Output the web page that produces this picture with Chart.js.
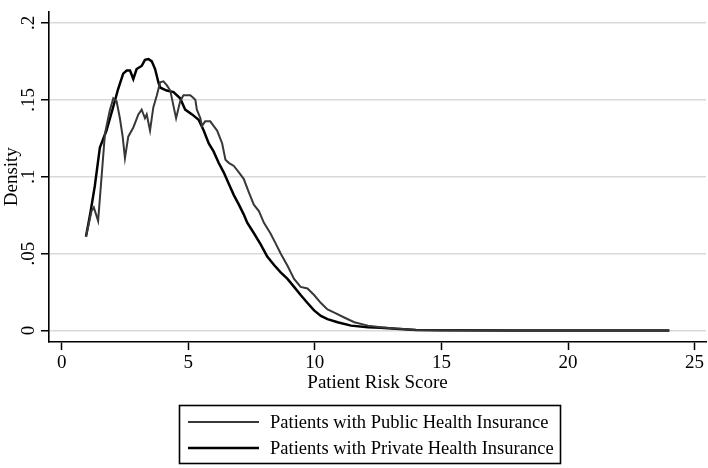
<!DOCTYPE html>
<html><head><meta charset="utf-8">
<script src="https://cdn.jsdelivr.net/npm/chart.js@4"></script>
<style>html,body{margin:0;padding:0;background:#fff}</style>
</head><body>
<canvas id="c" width="708" height="468" style="display:block;width:708px;height:468px"></canvas>
<script>
// ---- data ----
const seriesNames = ['Patients with Public Health Insurance', 'Patients with Private Health Insurance'];

const publicX = [0.96, 1.18, 1.27, 1.44, 1.57, 1.71, 1.90, 2.04, 2.17, 2.30, 2.41, 2.50, 2.63, 2.83, 3.03, 3.16, 3.29, 3.36, 3.49, 3.62, 3.76, 3.89, 4.02, 4.15, 4.29, 4.42, 4.52, 4.68, 4.81, 4.95, 5.08, 5.15, 5.28, 5.34, 5.48, 5.54, 5.67, 5.87, 6.00, 6.14, 6.34, 6.47, 6.60, 6.80, 7.00, 7.19, 7.39, 7.59, 7.79, 7.99, 8.25, 8.45, 8.65, 8.92, 9.18, 9.44, 9.71, 9.97, 10.24, 10.50, 10.77, 11.16, 11.56, 12.10, 12.60, 13.20, 14.00, 15.00, 18.00, 24.00];
const publicY = [0.061, 0.0776, 0.080, 0.0713, 0.0986, 0.128, 0.143, 0.151, 0.149, 0.138, 0.126, 0.112, 0.126, 0.132, 0.1405, 0.1436, 0.138, 0.1405, 0.130, 0.145, 0.153, 0.1614, 0.162, 0.1595, 0.156, 0.1457, 0.138, 0.149, 0.153, 0.153, 0.153, 0.152, 0.150, 0.1436, 0.138, 0.133, 0.136, 0.136, 0.133, 0.130, 0.1216, 0.111, 0.109, 0.107, 0.1028, 0.0986, 0.090, 0.0818, 0.0776, 0.070, 0.063, 0.0566, 0.050, 0.042, 0.0335, 0.0283, 0.0273, 0.023, 0.0178, 0.0136, 0.0115, 0.0084, 0.0053, 0.0031, 0.0021, 0.0012, 0.0003, 0.0001, 0, 0];

const privateX = [0.96, 1.12, 1.31, 1.51, 1.77, 2.03, 2.23, 2.43, 2.57, 2.70, 2.83, 2.96, 3.16, 3.29, 3.43, 3.56, 3.69, 3.82, 3.89, 4.02, 4.15, 4.42, 4.68, 4.88, 5.15, 5.41, 5.61, 5.81, 6.00, 6.20, 6.40, 6.60, 6.80, 7.00, 7.19, 7.33, 7.60, 7.86, 8.12, 8.39, 8.65, 8.92, 9.18, 9.44, 9.71, 9.97, 10.24, 10.50, 10.90, 11.43, 12.10, 12.60, 13.20, 14.00, 15.00, 18.00, 24.00];
const privateY = [0.061, 0.075, 0.094, 0.119, 0.130, 0.145, 0.157, 0.167, 0.169, 0.169, 0.1635, 0.170, 0.172, 0.176, 0.1765, 0.175, 0.170, 0.1614, 0.158, 0.157, 0.156, 0.155, 0.151, 0.1436, 0.1405, 0.137, 0.130, 0.1216, 0.1164, 0.109, 0.1028, 0.0954, 0.088, 0.0818, 0.0755, 0.070, 0.063, 0.056, 0.048, 0.0425, 0.0377, 0.0335, 0.0283, 0.023, 0.0178, 0.013, 0.0094, 0.0073, 0.0053, 0.0031, 0.0021, 0.0017, 0.0010, 0.0003, 0.0001, 0, 0];

const xTicks = [0, 5, 10, 15, 20, 25];
const yTicks = [0, 0.05, 0.1, 0.15, 0.2];
const yTickLabels = ['0', '.05', '.1', '.15', '.2'];
const xTitle = 'Patient Risk Score';
const yTitle = 'Density';

// ---- chart ----
const FONT = "'Liberation Serif', 'Times New Roman', serif";
const toPoints = (xs, ys) => xs.map((x, i) => ({x: x, y: ys[i]}));

const boxLegend = {
  id: 'boxLegend',
  afterDraw(chart) {
    const ctx = chart.ctx;
    ctx.save();
    ctx.strokeStyle = '#000';
    ctx.lineWidth = 1.6;
    ctx.strokeRect(179.5, 405.5, 381, 58);
    ctx.font = '18.5px ' + FONT;
    ctx.fillStyle = '#000';
    ctx.textBaseline = 'middle';
    ctx.textAlign = 'left';
    const rows = [422, 448];
    chart.data.datasets.forEach((ds, i) => {
      ctx.strokeStyle = ds.borderColor;
      ctx.lineWidth = ds.borderWidth;
      ctx.beginPath();
      ctx.moveTo(188, rows[i]);
      ctx.lineTo(259, rows[i]);
      ctx.stroke();
      ctx.fillText(ds.label, 270, rows[i] + 1);
    });
    ctx.restore();
  }
};

new Chart(document.getElementById('c'), {
  type: 'line',
  data: {
    datasets: [
      {label: seriesNames[0], data: toPoints(publicX, publicY), borderColor: '#383838', borderWidth: 2, pointRadius: 0, tension: 0, fill: false},
      {label: seriesNames[1], data: toPoints(privateX, privateY), borderColor: '#000000', borderWidth: 2.5, pointRadius: 0, tension: 0, fill: false}
    ]
  },
  options: {
    responsive: false,
    animation: false,
    layout: {padding: {left: 0, right: 2, top: 0, bottom: 66}},
    plugins: {legend: {display: false}, tooltip: {enabled: false}},
    scales: {
      x: {
        type: 'linear', min: -0.5, max: 25.45,
        afterBuildTicks: s => { s.ticks = xTicks.map(v => ({value: v})); },
        afterFit: s => { s.height = 60; },
        grid: {color: 'rgba(0,0,0,0)', tickColor: '#000', tickLength: 8, tickWidth: 1.5},
        border: {color: '#000', width: 1.6},
        ticks: {font: {family: FONT, size: 19}, color: '#000', padding: 2, maxRotation: 0, autoSkip: false},
        title: {display: true, text: xTitle, font: {family: FONT, size: 19}, color: '#000', padding: {top: 0, bottom: 8}}
      },
      y: {
        type: 'linear', min: -0.00755, max: 0.2075,
        afterBuildTicks: s => { s.ticks = yTicks.map(v => ({value: v})); },
        afterFit: s => { s.width = 49; },
        grid: {color: '#d9d9d9', lineWidth: 1.5, tickColor: '#000', tickLength: 8, tickWidth: 1.5},
        border: {color: '#000', width: 1.6},
        ticks: {
          font: {family: FONT, size: 19}, color: '#000', padding: 0, minRotation: 90, maxRotation: 90,
          crossAlign: 'center', autoSkip: false,
          callback: v => { const i = yTicks.findIndex(t => Math.abs(t - v) < 1e-9); return i >= 0 ? yTickLabels[i] : ''; }
        },
        title: {display: true, text: yTitle, font: {family: FONT, size: 19}, color: '#000', padding: {top: 1, bottom: 0}}
      }
    }
  },
  plugins: [boxLegend]
});
</script>
</body></html>
